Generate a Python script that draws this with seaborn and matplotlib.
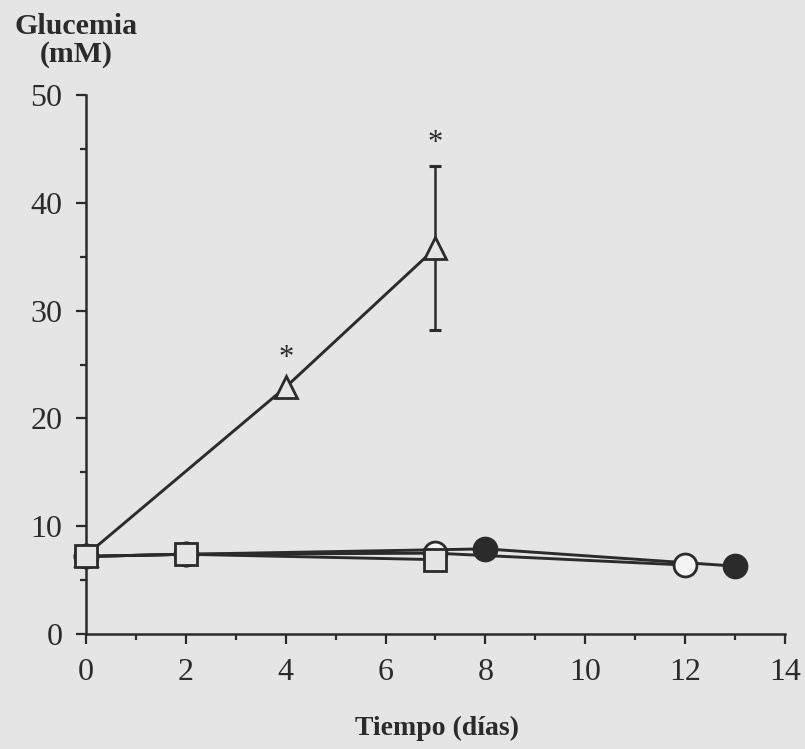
import matplotlib
matplotlib.use("Agg")
import matplotlib.pyplot as plt
from matplotlib.ticker import MultipleLocator
import seaborn as sns
import pandas as pd

# Glucose (mM) over time (days) for four groups
dias_triangulo = [0, 4, 7]
gluc_triangulo = [7.3, 22.9, 35.8]
err_triangulo = [0.0, 0.0, 7.6]

dias_cuadrado = [0, 2, 7]
gluc_cuadrado = [7.2, 7.4, 6.9]

dias_abierto = [0, 2, 7, 12]
gluc_abierto = [7.2, 7.4, 7.5, 6.4]

dias_lleno = [0, 2, 8, 13]
gluc_lleno = [7.2, 7.4, 7.9, 6.3]

# significance marks
dias_signif = [4, 7]
y_signif = [25.6, 45.5]

x_ticks = list(range(0, 15, 2))
y_ticks = list(range(0, 51, 10))

sns.set_theme(style="ticks")
plt.rcParams["font.family"] = ["Liberation Serif", "DejaVu Serif"]

bg = "#e5e5e5"
ink = "#2b2b2b"

fig = plt.figure(figsize=(8.05, 7.49), dpi=100, facecolor=bg)
ax = fig.add_axes([0.1068, 0.1535, 0.8683, 0.7196], facecolor=bg)

lw = 2.1
series = [
    (dias_lleno, gluc_lleno, "o", ink, 16.5, 2),
    (dias_abierto, gluc_abierto, "o", "#f4f4f4", 16.5, 3),
    (dias_triangulo, gluc_triangulo, "^", bg, 16.0, 4),
    (dias_cuadrado, gluc_cuadrado, "s", bg, 16.0, 5),
]
for dias, gluc, mk, face, ms, z in series:
    df = pd.DataFrame({"dia": dias, "glucemia": gluc})
    sns.lineplot(data=df, x="dia", y="glucemia", ax=ax, color=ink, lw=lw,
                 marker=mk, markersize=ms, markerfacecolor=face,
                 markeredgecolor=ink, markeredgewidth=2.0,
                 errorbar=None, zorder=z, clip_on=False)

# SEM bar for the triangle series
ax.errorbar(dias_triangulo[-1:], gluc_triangulo[-1:], yerr=err_triangulo[-1:],
            fmt="none", ecolor=ink, elinewidth=1.8, capsize=4.5, capthick=2.2,
            zorder=3.9)

for d, y in zip(dias_signif, y_signif):
    ax.text(d, y, "*", ha="center", va="center", fontsize=22, color=ink)

ax.set_xlim(0, 14)
ax.set_ylim(0, 50)
ax.set_xticks(x_ticks)
ax.set_yticks(y_ticks)
ax.xaxis.set_minor_locator(MultipleLocator(1))
ax.yaxis.set_minor_locator(MultipleLocator(5))
ax.tick_params(axis="both", which="major", length=7, width=1.6, color=ink,
               labelsize=23, labelcolor=ink, pad=10)
ax.tick_params(axis="both", which="minor", length=4, width=1.6, color=ink)
ax.set_xlabel("")
ax.set_ylabel("")
for side in ("top", "right"):
    ax.spines[side].set_visible(False)
for side in ("left", "bottom"):
    ax.spines[side].set_color(ink)
    ax.spines[side].set_linewidth(1.8)

fig.text(0.095, 0.982, "Glucemia\n(mM)", ha="center", va="top", fontsize=21.5,
         fontweight="bold", color=ink, linespacing=1.0)
fig.text(0.543, 0.028, "Tiempo (días)", ha="center", va="center",
         fontsize=20, fontweight="bold", color=ink)

fig.savefig("out.png", dpi=100, facecolor=bg)
